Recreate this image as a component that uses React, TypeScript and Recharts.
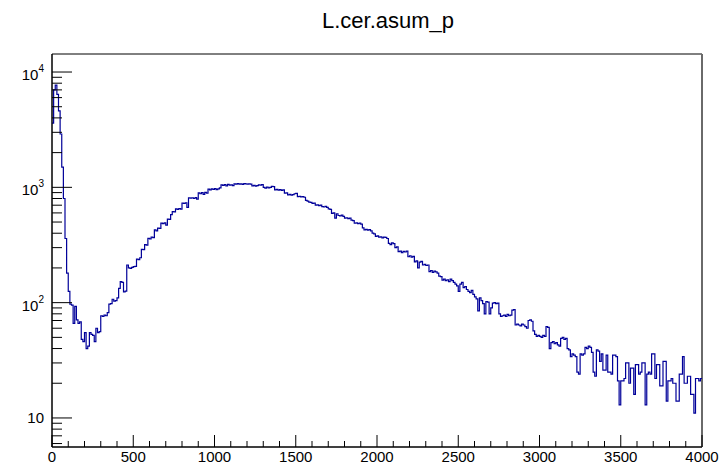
import { LineChart, Line, XAxis, YAxis, ReferenceArea, ReferenceLine } from 'recharts';

// L.cer.asum_p, 400 bins of width 10 from 0 to 4000
const binWidth = 10;

const counts0 = [
  3600, 7000, 7700, 6400, 4600, 2900, 1500, 800, 360, 180,
  125, 97, 95, 66, 93, 71, 66, 68, 48, 46,
  55, 40, 42, 55, 53, 52, 46, 60, 55, 56,
  77, 76, 78, 77, 82, 97, 98, 107, 103, 104,
  110, 133, 152, 150, 124, 126, 212, 200, 198, 202,
];
const counts500 = [
  205, 206, 238, 236, 245, 290, 288, 318, 315, 361,
  358, 370, 366, 427, 420, 443, 440, 490, 485, 492,
  470, 530, 528, 580, 615, 612, 650, 645, 655, 648,
  730, 725, 735, 670, 810, 805, 812, 800, 815, 790,
  895, 880, 900, 870, 905, 890, 965, 950, 970, 960,
];
const counts1000 = [
  975, 955, 968, 990, 1050, 1040, 1055, 1030, 1060, 1045,
  1050, 1035, 1070, 1065, 1075, 1068, 1072, 1060, 1078, 1070,
  1065, 1072, 1068, 1030, 1040, 1025, 1035, 1050, 1045, 1055,
  1000, 985, 1005, 990, 1000, 1020, 1015, 950, 960, 945,
  955, 940, 950, 890, 895, 860, 870, 855, 865, 880,
];
const counts1500 = [
  885, 830, 835, 825, 830, 820, 770, 760, 745, 740,
  725, 730, 700, 705, 695, 700, 680, 675, 685, 670,
  650, 645, 595, 600, 540, 590, 570, 565, 575, 560,
  540, 545, 535, 540, 520, 515, 488, 492, 485, 490,
  480, 445, 428, 432, 425, 430, 420, 400, 395, 375,
];
const counts2000 = [
  380, 370, 372, 365, 370, 368, 360, 327, 318, 330,
  325, 300, 305, 277, 280, 272, 278, 275, 280, 250,
  255, 248, 252, 226, 230, 200, 225, 228, 212, 215,
  210, 212, 186, 190, 183, 188, 185, 180, 170, 168,
  157, 160, 155, 158, 152, 160, 155, 150, 145, 140,
];
const counts2500 = [
  125, 145, 150, 135, 138, 130, 125, 122, 128, 118,
  112, 108, 85, 110, 104, 98, 80, 102, 101, 80,
  90, 99, 100, 98, 99, 80, 76, 77, 78, 76,
  79, 77, 78, 86, 87, 64, 65, 64, 63, 65,
  64, 62, 60, 70, 71, 69, 57, 53, 51, 52,
];
const counts3000 = [
  51, 50, 52, 51, 62, 61, 40, 45, 46, 44,
  45, 43, 42, 49, 50, 48, 49, 40, 39, 34,
  36, 35, 34, 25, 24, 36, 35, 36, 41, 40,
  42, 41, 37, 25, 23, 39, 38, 31, 36, 26,
  26, 35, 25, 25, 24, 35, 35, 34, 21, 13,
];
const counts3500 = [
  21, 21, 22, 30, 30, 20, 27, 27, 16, 29,
  29, 24, 25, 30, 30, 13, 24, 25, 24, 36,
  36, 22, 29, 29, 19, 19, 31, 31, 14, 21,
  21, 22, 20, 20, 14, 14, 24, 24, 34, 20,
  20, 23, 23, 16, 16, 11, 22, 22, 21, 22,
];

const xTicks = [
  0, 100, 200, 300, 400, 500, 600, 700, 800, 900,
  1000, 1100, 1200, 1300, 1400, 1500, 1600, 1700, 1800, 1900,
  2000, 2100, 2200, 2300, 2400, 2500, 2600, 2700, 2800, 2900,
  3000, 3100, 3200, 3300, 3400, 3500, 3600, 3700, 3800, 3900, 4000,
];
const yTicks = [
  6, 7, 8, 9,
  10, 20, 30, 40, 50, 60, 70, 80, 90,
  100, 200, 300, 400, 500, 600, 700, 800, 900,
  1000, 2000, 3000, 4000, 5000, 6000, 7000, 8000, 9000,
  10000,
];
const yMajor = [10, 100, 1000, 10000];

const counts = [
  ...counts0, ...counts500, ...counts1000, ...counts1500,
  ...counts2000, ...counts2500, ...counts3000, ...counts3500,
];
const data = counts.map((c, i) => ({ x: i * binWidth, y: c }));
data.push({ x: counts.length * binWidth, y: counts[counts.length - 1] });

const font = '"Liberation Sans", Arial, Helvetica, sans-serif';

function XTick(props: any) {
  const { x, y, payload } = props;
  const v = payload.value;
  const major = v % 500 === 0;
  return (
    <g>
      <line x1={x} x2={x} y1={y} y2={y - (major ? 12 : 6)} stroke="#000" />
      {major && (
        <text x={x} y={y + 15} textAnchor="middle" fontSize={15} fill="#000" fontFamily={font}>
          {v}
        </text>
      )}
    </g>
  );
}

function YTick(props: any) {
  const { x, y, payload } = props;
  const v = payload.value;
  const major = yMajor.includes(v);
  const exp = Math.round(Math.log10(v));
  return (
    <g>
      <line x1={x} x2={x + (major ? 20 : 10)} y1={y} y2={y} stroke="#000" />
      {major && exp === 1 && (
        <text x={x - 8} y={y + 5} textAnchor="end" fontSize={15} fill="#000" fontFamily={font}>
          10
        </text>
      )}
      {major && exp > 1 && (
        <text x={x - 8} y={y + 8} textAnchor="end" fontSize={15} fill="#000" fontFamily={font}>
          10
          <tspan dy={-8} fontSize={10}>{exp}</tspan>
        </text>
      )}
    </g>
  );
}

export default function App() {
  return (
    <div style={{ position: 'absolute', left: 0, top: 0, width: 722, height: 465, background: '#fff' }}>
      <svg width={722} height={40} style={{ position: 'absolute', left: 0, top: 0 }}>
        <text x={388} y={28} textAnchor="middle" fontSize={22} fill="#000" fontFamily={font}>
          L.cer.asum_p
        </text>
      </svg>
      <LineChart
        width={722}
        height={465}
        data={data}
        margin={{ top: 54, right: 20, bottom: 0, left: 0 }}
      >
        <ReferenceArea x1={0} x2={4000} y1={5.6} y2={14330} fill="none" stroke="#000" ifOverflow="visible" />
        <ReferenceLine x={4000} stroke="#6a6a6a" strokeWidth={2} />
        <XAxis
          dataKey="x"
          type="number"
          domain={[0, 4000]}
          ticks={xTicks}
          interval={0}
          tick={(p: any) => <XTick {...p} />}
          tickLine={false}
          tickSize={0}
          tickMargin={0}
          height={18}
          axisLine={{ stroke: '#000' }}
          allowDataOverflow
        />
        <YAxis
          type="number"
          scale="log"
          domain={[5.6, 14330]}
          ticks={yTicks}
          interval={0}
          tick={(p: any) => <YTick {...p} />}
          tickLine={false}
          tickSize={0}
          tickMargin={0}
          width={52}
          axisLine={{ stroke: '#000' }}
          allowDataOverflow
        />
        <Line
          type="stepAfter"
          dataKey="y"
          stroke="#000099"
          strokeWidth={1.2}
          dot={false}
          isAnimationActive={false}
        />
      </LineChart>
    </div>
  );
}
